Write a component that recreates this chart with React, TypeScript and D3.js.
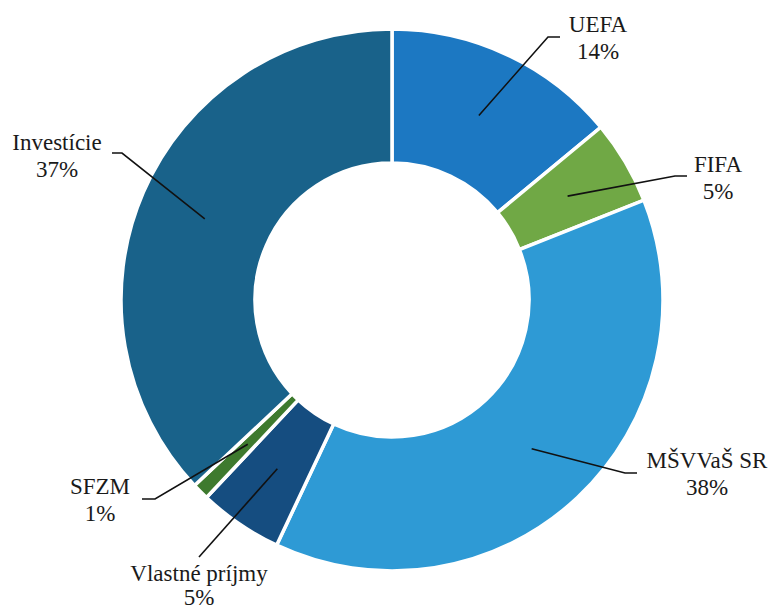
import React from "react";
import * as d3 from "d3";

const categories = ["UEFA", "FIFA", "MŠVVaŠ SR", "Vlastné príjmy", "SFZM", "Investície"];
const shares = [14, 5, 38, 5, 1, 37];
const percentLabels = ["14%", "5%", "38%", "5%", "1%", "37%"];
const colors = ["#1c78c2", "#70a845", "#2e9ad5", "#154d80", "#3e7a2e", "#19628a"];

// label layout (annotation placement): elbow point, end point, text centre, first baseline, line gap
const labelLayout = [
  { elbow: [548, 37], end: [560, 37], tx: 598, y1: 32, gap: 27 },
  { elbow: [675, 176], end: [687, 176], tx: 718, y1: 172, gap: 27 },
  { elbow: [625, 473], end: [637, 473], tx: 707, y1: 468, gap: 27 },
  { elbow: null, end: [199, 557], tx: 199, y1: 581, gap: 24 },
  { elbow: [155, 499], end: [142, 499], tx: 100, y1: 494, gap: 27 },
  { elbow: [122, 153], end: [112, 153], tx: 57, y1: 150, gap: 27 },
];

const W = 776;
const H = 612;
const cx = 392;
const cy = 300;
const outerR = 271;
const innerR = 137;

export default function App() {
  const pie = d3.pie<number>().sort(null).value((d) => d);
  const arcs = pie(shares);
  const arc = d3.arc<d3.PieArcDatum<number>>().innerRadius(innerR).outerRadius(outerR);

  return (
    <svg
      width={W}
      height={H}
      fontFamily="Liberation Serif"
      style={{ position: "absolute", left: 0, top: 0, background: "#fff", fontFamily: "Liberation Serif" }}
    >
      <g transform={`translate(${cx},${cy})`}>
        {arcs.map((a, i) => (
          <path key={i} d={arc(a) || ""} fill={colors[i]} stroke="#fff" strokeWidth={3.5} />
        ))}
      </g>
      {arcs.map((a, i) => {
        const [px, py] = arc.centroid(a);
        const L = labelLayout[i];
        const pts: [number, number][] = [[px + cx, py + cy]];
        if (L.elbow) pts.push(L.elbow as [number, number]);
        pts.push(L.end as [number, number]);
        const line = d3.line()(pts) || "";
        return (
          <g key={`l${i}`} fontFamily="Liberation Serif" fontSize={23} fill="#1a1a1a">
            <path d={line} fill="none" stroke="#111" strokeWidth={1.6} />
            <text x={L.tx} y={L.y1} textAnchor="middle">
              {categories[i]}
            </text>
            <text x={L.tx} y={L.y1 + L.gap} textAnchor="middle">
              {percentLabels[i]}
            </text>
          </g>
        );
      })}
    </svg>
  );
}
